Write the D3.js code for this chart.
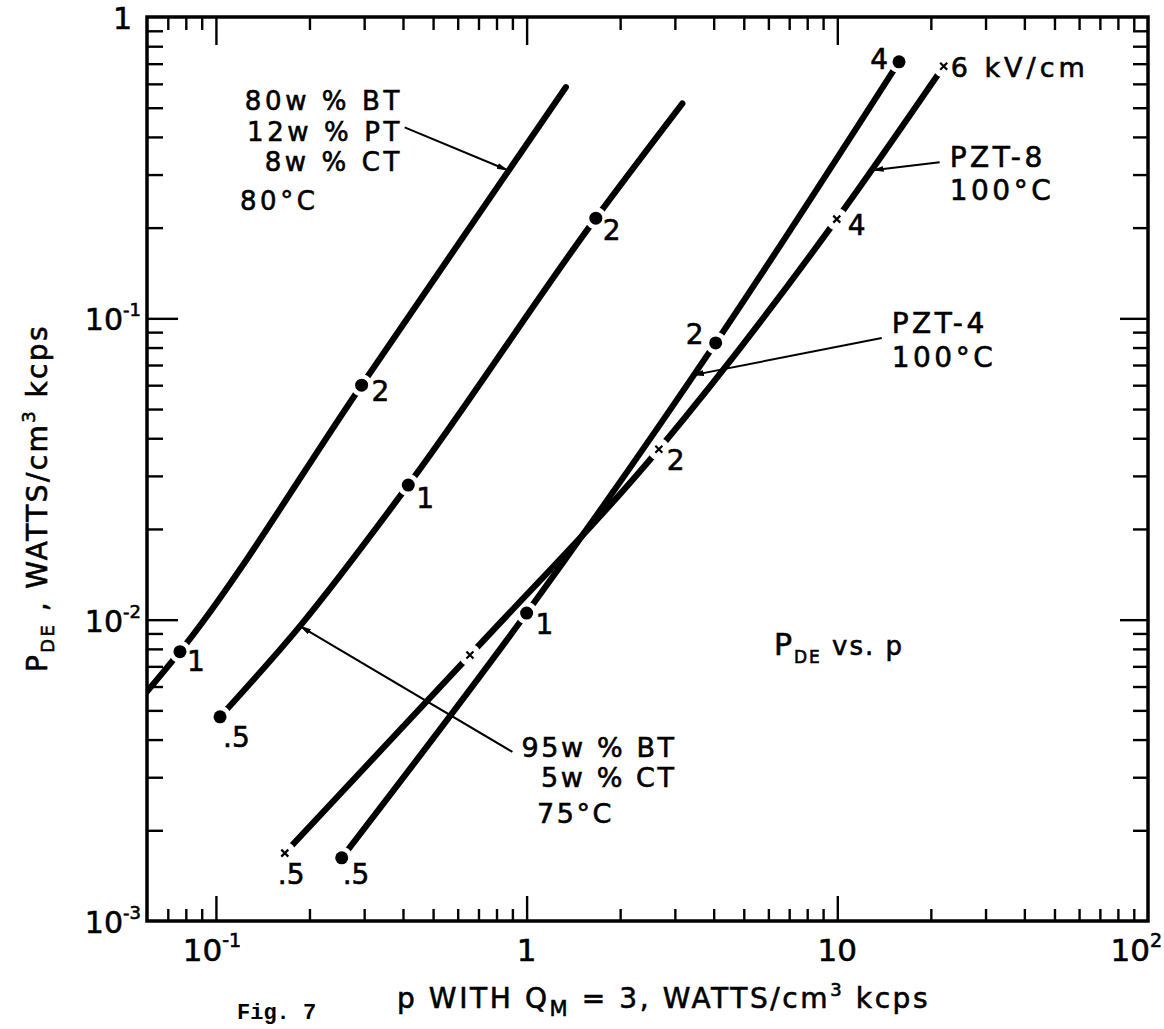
<!DOCTYPE html>
<html><head><meta charset="utf-8">
<script src="https://cdn.jsdelivr.net/npm/d3@7"></script>
<style>body{margin:0;background:#fff}svg{display:block}</style>
</head><body>
<svg id="c" width="1164" height="1029"></svg>
<script>
// ---------------- DATA ----------------
// axis ticks
const xMajorTicks = [0.1, 1, 10, 100];
const xMajorLabels = [["10","-1"], ["1",""], ["10",""], ["10","2"]];
const xMinorTicks = [0.07,0.08,0.09, 0.2,0.3,0.4,0.5,0.6,0.7,0.8,0.9, 2,3,4,5,6,7,8,9, 20,30,40,50,60,70,80,90];
const yMajorTicks = [0.001, 0.01, 0.1, 1];
const yMajorLabels = [["10","-3"], ["10","-2"], ["10","-1"], ["1",""]];
const yMinorTicks = [0.002,0.003,0.004,0.005,0.006,0.007,0.008,0.009, 0.02,0.03,0.04,0.05,0.06,0.07,0.08,0.09, 0.2,0.3,0.4,0.5,0.6,0.7,0.8,0.9];

// series: p (W/cm^3 kcps, Qm=3), P_DE (W/cm^3 kcps), field kV/cm at measured points
const bt80P   = [0.06, 0.0766, 0.2944, 1.337];
const bt80Pde = [0.00577, 0.00783, 0.060, 0.585];
const bt80Kv  = [null, "1", "2", null];

const bt95P   = [0.1031, 0.1864, 0.416, 1.67, 3.17];
const bt95Pde = [0.00476, 0.00952, 0.02797, 0.215, 0.516];
const bt95Kv  = [".5", null, "1", "2", null];

const pzt4P   = [0.254, 1.00, 4.06, 15.8];
const pzt4Pde = [0.00162, 0.01052, 0.0829, 0.710];
const pzt4Kv  = [".5", "1", "2", "4"];

const pzt8P   = [0.1666, 0.657, 2.664, 9.96, 22.0];
const pzt8Pde = [0.00168, 0.00763, 0.0368, 0.2134, 0.6866];
const pzt8Kv  = [".5", "", "2", "4", "6 kV/cm"];

// annotation texts
const noteBt80 = ["80w % BT", "12w % PT", "8w % CT"];
const noteBt80T = "80°C";
const noteBt95 = ["95w % BT", "5w % CT"];
const noteBt95T = "75°C";
const notePzt4 = ["PZT-4", "100°C"];
const notePzt8 = ["PZT-8", "100°C"];

// ---------------- LAYOUT ----------------
const W = 1164, H = 1029;
const M = {left:147, right:1148, top:17, bottom:921};
const FONT = "'DejaVu Sans', 'Liberation Sans', sans-serif";
const svg = d3.select("#c");
const x = d3.scaleLog().domain([0.06, 100]).range([M.left, M.right]);
const y = d3.scaleLog().domain([0.001, 1]).range([M.bottom, M.top]);

const series = [
  {id:"bt80", p:bt80P, d:bt80Pde, kv:bt80Kv, mark:"dot",
   lab:[null,{dx:7,dy:19},{dx:10,dy:16},null]},
  {id:"bt95", p:bt95P, d:bt95Pde, kv:bt95Kv, mark:"dot",
   lab:[{dx:3,dy:30},null,{dx:8,dy:23},{dx:7,dy:22},null]},
  {id:"pzt4", p:pzt4P, d:pzt4Pde, kv:pzt4Kv, mark:"dot",
   lab:[{dx:1,dy:26},{dx:9,dy:21},{dx:-12,dy:1,a:"end"},{dx:-11,dy:7,a:"end"}]},
  {id:"pzt8", p:pzt8P, d:pzt8Pde, kv:pzt8Kv, mark:"cross",
   lab:[{dx:-7,dy:31},null,{dx:8,dy:21},{dx:11,dy:16},{dx:7,dy:11}]}
];

const defs = svg.append("defs");
defs.append("clipPath").attr("id","plotclip").append("rect")
  .attr("x",M.left).attr("y",M.top).attr("width",M.right-M.left).attr("height",M.bottom-M.top);
defs.append("marker").attr("id","arrow").attr("viewBox","0 0 12 8")
  .attr("refX",11).attr("refY",4).attr("markerWidth",12).attr("markerHeight",8)
  .attr("markerUnits","userSpaceOnUse").attr("orient","auto")
  .append("path").attr("d","M0,1 L12,4 L0,7 Z").attr("fill","#000");

// ---------- ticks ----------
function tickGroup(axisGen, tr, vals, size){
  const g = svg.append("g").attr("transform", tr)
    .call(axisGen.tickValues(vals).tickSize(size).tickFormat(""));
  g.select(".domain").remove();
  g.selectAll("line").attr("stroke","#000").attr("stroke-width",2.4);
}
tickGroup(d3.axisBottom(x), `translate(0,${M.bottom})`, xMinorTicks, -12);
tickGroup(d3.axisBottom(x), `translate(0,${M.bottom})`, xMajorTicks.slice(0,3), -25);
tickGroup(d3.axisTop(x), `translate(0,${M.top})`, xMinorTicks, -13);
tickGroup(d3.axisTop(x), `translate(0,${M.top})`, xMajorTicks.slice(0,3), -28);
tickGroup(d3.axisLeft(y), `translate(${M.left},0)`, yMinorTicks, -16);
tickGroup(d3.axisLeft(y), `translate(${M.left},0)`, yMajorTicks.slice(1,3), -31);
tickGroup(d3.axisRight(y), `translate(${M.right},0)`, yMinorTicks, -15);
tickGroup(d3.axisRight(y), `translate(${M.right},0)`, yMajorTicks.slice(1,3), -28);

// frame
svg.append("rect").attr("x",M.left).attr("y",M.top)
  .attr("width",M.right-M.left).attr("height",M.bottom-M.top)
  .attr("fill","none").attr("stroke","#000").attr("stroke-width",3.5);

// ---------- tick labels ----------
function powText(g, base, exp, px, py, anchor, fs, sfs, rise){
  const t = g.append("text").attr("x",px).attr("y",py).attr("text-anchor",anchor)
    .attr("font-family",FONT).attr("font-size",fs).attr("fill","#000")
    .attr("stroke","#000").attr("stroke-width",0.6);
  t.append("tspan").text(base);
  if (exp) t.append("tspan").attr("dy",-rise).attr("font-size",sfs).text(exp);
  return t;
}
const lab = svg.append("g");
xMajorTicks.forEach((v,i)=>{
  const [b,e] = xMajorLabels[i];
  const last = i === xMajorTicks.length-1;
  powText(lab, b, e, last ? W-2 : x(v) + (e ? -4 : 0), M.bottom + 40,
          last ? "end" : "middle", 31, 19, 14);
});
yMajorTicks.forEach((v,i)=>{
  const [b,e] = yMajorLabels[i];
  powText(lab, b, e, e ? 141 : 132, y(v) + 12, "end", 30, 18, 14);
});

// ---------- axis titles ----------
const xt = svg.append("text").attr("x",397).attr("y",1008)
  .attr("font-family",FONT).attr("font-size",28).attr("letter-spacing",2.6)
  .attr("stroke","#000").attr("stroke-width",0.6);
xt.append("tspan").text("p WITH Q");
xt.append("tspan").attr("dy",8).attr("font-size",21).text("M");
xt.append("tspan").attr("dy",-8).text(" = 3, WATTS/cm");
xt.append("tspan").attr("dy",-12).attr("font-size",18).text("3");
xt.append("tspan").attr("dy",12).text(" kcps");

svg.append("text").attr("x",237).attr("y",1019)
  .attr("font-family","'Liberation Mono', 'DejaVu Sans Mono', monospace")
  .attr("font-weight","bold").attr("font-size",22).text("Fig. 7");

const yt = svg.append("text").attr("transform","translate(47,498) rotate(-90)")
  .attr("text-anchor","middle")
  .attr("font-family",FONT).attr("font-size",28).attr("letter-spacing",2.4)
  .attr("stroke","#000").attr("stroke-width",0.6);
yt.append("tspan").text("P");
yt.append("tspan").attr("dy",7).attr("font-size",18).text("DE");
yt.append("tspan").attr("dy",-7).text(" , WATTS/cm");
yt.append("tspan").attr("dy",-12).attr("font-size",18).text("3");
yt.append("tspan").attr("dy",12).text(" kcps");

// ---------- series lines ----------
const line = d3.line().x(d=>x(d.p)).y(d=>y(d.d)).curve(d3.curveMonotoneX);
const plot = svg.append("g").attr("clip-path","url(#plotclip)");
series.forEach(s=>{
  const pts = s.p.map((p,i)=>({p, d:s.d[i], kv:s.kv[i], lab:s.lab[i]}));
  s.pts = pts;
  const mk = defs.append("mask").attr("id","mask-"+s.id).attr("maskUnits","userSpaceOnUse")
    .attr("x",0).attr("y",0).attr("width",W).attr("height",H);
  mk.append("rect").attr("width",W).attr("height",H).attr("fill","#fff");
  pts.filter(q=>q.kv!==null).forEach(q=>{
    mk.append("circle").attr("cx",x(q.p)).attr("cy",y(q.d))
      .attr("r", 11).attr("fill","#000");
  });
  plot.append("g").attr("mask","url(#mask-"+s.id+")")
    .append("path").datum(pts).attr("d",line)
    .attr("fill","none").attr("stroke","#000").attr("stroke-width",6.2)
    .attr("stroke-linecap","round");
});

// markers + point labels
series.forEach(s=>{
  const g = svg.append("g");
  s.pts.filter(q=>q.kv!==null).forEach(q=>{
    const cx = x(q.p), cy = y(q.d);
    if (s.mark==="dot"){
      g.append("circle").attr("cx",cx).attr("cy",cy).attr("r",6.5).attr("fill","#000");
    } else {
      const r = 3.5;
      g.append("path").attr("d",`M${cx-r},${cy-r}L${cx+r},${cy+r}M${cx-r},${cy+r}L${cx+r},${cy-r}`)
        .attr("stroke","#000").attr("stroke-width",2.2);
    }
    if (q.kv && q.lab){
      g.append("text").attr("x",cx+q.lab.dx).attr("y",cy+q.lab.dy)
        .attr("text-anchor",q.lab.a||"start")
        .attr("font-family",FONT).attr("font-size",q.kv.length>2?27:28)
        .attr("letter-spacing",q.kv.length>2?4:0)
        .attr("stroke","#000").attr("stroke-width",0.6).text(q.kv);
    }
  });
});

// ---------- annotations ----------
function block(lines, px, baselines, anchor, fs, ls){
  lines.forEach((t,i)=>{
    svg.append("text").attr("x",x(px)).attr("y",y(baselines[i]))
      .attr("text-anchor",anchor).attr("font-family",FONT).attr("font-size",fs)
      .attr("letter-spacing",ls).attr("stroke","#000").attr("stroke-width",0.6).text(t);
  });
}
function leader(p0, d0, p1, d1){
  svg.append("line").attr("x1",x(p0)).attr("y1",y(d0)).attr("x2",x(p1)).attr("y2",y(d1))
    .attr("stroke","#000").attr("stroke-width",2).attr("marker-end","url(#arrow)");
}
// 80w% BT block (right aligned)
block(noteBt80, 0.40, [0.4907, 0.3887, 0.3079], "end", 26, 3.6);
block([noteBt80T], 0.1195, [0.2286], "start", 26, 3.6);
leader(0.405, 0.43, 0.87, 0.31);
// 95w% BT block
block(noteBt95, 3.04, [0.0035, 0.00278], "end", 27, 2.6);
block([noteBt95T], 1.079, [0.002115], "start", 27, 2.6);
leader(0.90, 0.00364, 0.1864, 0.00952);
// PZT-4
block(notePzt4, 14.97, [0.0893, 0.0689], "start", 28, 3.5);
leader(13.9, 0.086, 3.43, 0.0648);
// PZT-8
block(notePzt8, 23.0, [0.3175, 0.2467], "start", 28, 3.5);
leader(21.35, 0.3298, 13.0, 0.3102);
// P_DE vs. p
const pv = svg.append("text").attr("x",x(6.25)).attr("y",y(0.00763))
  .attr("font-family",FONT).attr("font-size",30).attr("letter-spacing",2)
  .attr("stroke","#000").attr("stroke-width",0.6);
pv.append("tspan").text("P");
pv.append("tspan").attr("dy",8).attr("font-size",17).text("DE");
pv.append("tspan").attr("dy",-8).attr("font-size",26).text("  vs.  p");
</script>
</body></html>
